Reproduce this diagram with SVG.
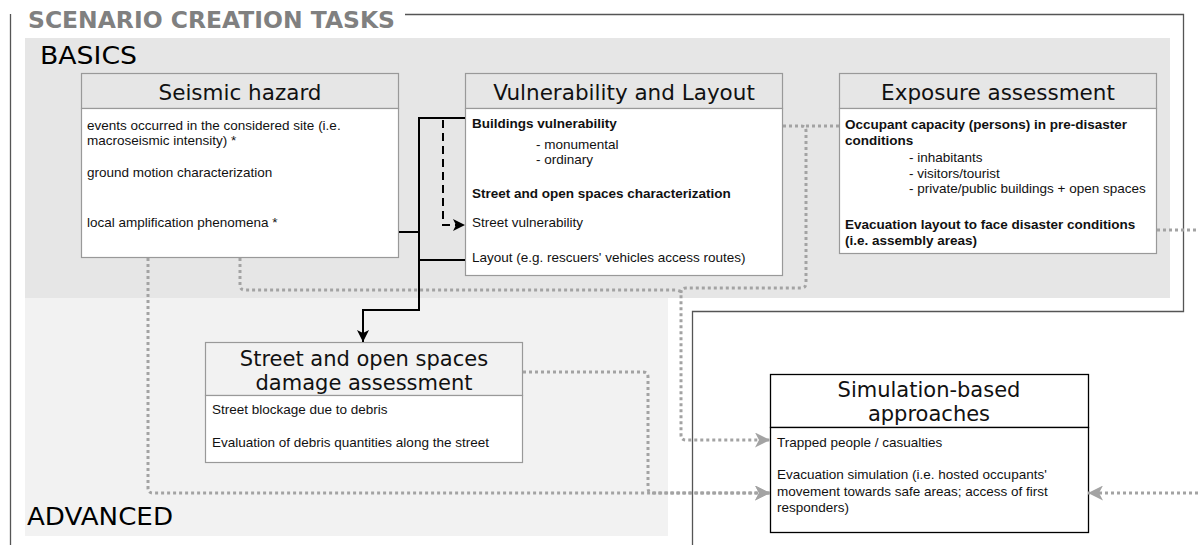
<svg xmlns="http://www.w3.org/2000/svg" width="1198" height="545" viewBox="0 0 1198 545">
<style>
.ttl{font-family:"DejaVu Sans",Verdana,sans-serif;font-size:21.5px;fill:#111;text-anchor:middle}
.ttl2{font-family:"DejaVu Sans",Verdana,sans-serif;font-size:21px;fill:#111;text-anchor:middle}
.big{font-family:"DejaVu Sans",Verdana,sans-serif;font-size:24px;fill:#000}
.t{font-family:"Liberation Sans",Arial,sans-serif;font-size:13.5px;fill:#111}
.b{font-weight:bold}
.gbox{fill:none;stroke:#999;stroke-width:1.2}
.wbody{fill:#fff;stroke:#999;stroke-width:1.2}
.dot{fill:none;stroke:#a3a3a3;stroke-width:3;stroke-dasharray:3 3}
.blk{fill:none;stroke:#000;stroke-width:2}
</style>
<defs>
<marker id="ga" viewBox="0 0 15 15" refX="15" refY="7.5" markerWidth="15" markerHeight="15" markerUnits="userSpaceOnUse" orient="auto"><path d="M0,0 L15,7.5 L0,15 L4,7.5 Z" fill="#a3a3a3"/></marker>
<marker id="ba" viewBox="0 0 12 12" refX="12" refY="6" markerWidth="12" markerHeight="12" markerUnits="userSpaceOnUse" orient="auto"><path d="M0,0 L12,6 L0,12 L3,6 Z" fill="#000"/></marker>
</defs>
<rect width="1198" height="545" fill="#fff"/>
<g id="frame">
<path d="M10.5,545 V14" fill="none" stroke="#555" stroke-width="1.3"/>
<path d="M405,14.5 H1183.5 V311.5 H692.5 V545" fill="none" stroke="#555" stroke-width="1.3"/>
<text x="28" y="28" font-family="DejaVu Sans,Verdana,sans-serif" font-weight="bold" font-size="23" fill="#808080" textLength="367" lengthAdjust="spacingAndGlyphs">SCENARIO CREATION TASKS</text>
</g>
<g id="basics">
<rect x="25" y="38" width="1145" height="260" fill="#e6e6e6"/>
<text class="big" x="40" y="64" textLength="97" lengthAdjust="spacingAndGlyphs">BASICS</text>
</g>
<g id="advanced">
<rect x="25" y="298" width="643" height="238" fill="#f2f2f2"/>
<text class="big" x="27" y="525" textLength="146" lengthAdjust="spacingAndGlyphs">ADVANCED</text>
</g>
<g id="seismic">
<rect class="gbox" x="81.5" y="73.5" width="317" height="35"/>
<rect class="wbody" x="81.5" y="108.5" width="317" height="149"/>
<text class="ttl" x="240" y="100">Seismic hazard</text>
<text class="t" x="87" y="130">events occurred in the considered site (i.e.</text>
<text class="t" x="87" y="145">macroseismic intensity) *</text>
<text class="t" x="87" y="177">ground motion characterization</text>
<text class="t" x="87" y="227">local amplification phenomena *</text>
</g>
<g id="vulnerability">
<rect class="gbox" x="465.5" y="73.5" width="317" height="35"/>
<rect class="wbody" x="465.5" y="108.5" width="317" height="167"/>
<text class="ttl" x="624" y="100">Vulnerability and Layout</text>
<text class="t b" x="472" y="128">Buildings vulnerability</text>
<text class="t" x="536" y="149">- monumental</text>
<text class="t" x="536" y="164">- ordinary</text>
<text class="t b" x="472" y="198">Street and open spaces characterization</text>
<text class="t" x="472" y="227">Street vulnerability</text>
<text class="t" x="472" y="262">Layout (e.g. rescuers' vehicles access routes)</text>
</g>
<g id="exposure">
<rect class="gbox" x="839.5" y="73.5" width="317" height="35"/>
<rect class="wbody" x="839.5" y="108.5" width="317" height="145"/>
<text class="ttl" x="998" y="100">Exposure assessment</text>
<text class="t b" x="845" y="129">Occupant capacity (persons) in pre-disaster</text>
<text class="t b" x="845" y="145">conditions</text>
<text class="t" x="909" y="162">- inhabitants</text>
<text class="t" x="909" y="178">- visitors/tourist</text>
<text class="t" x="909" y="193">- private/public buildings + open spaces</text>
<text class="t b" x="845" y="229">Evacuation layout to face disaster conditions</text>
<text class="t b" x="845" y="245">(i.e. assembly areas)</text>
</g>
<g id="damage">
<rect class="gbox" x="205.5" y="342.5" width="317" height="53"/>
<rect class="wbody" x="205.5" y="395.5" width="317" height="67"/>
<text class="ttl2" x="364" y="366">Street and open spaces</text>
<text class="ttl2" x="364" y="390">damage assessment</text>
<text class="t" x="212" y="414">Street blockage due to debris</text>
<text class="t" x="212" y="447">Evaluation of debris quantities along the street</text>
</g>
<g id="simulation">
<rect x="770.5" y="374.5" width="318" height="53" fill="#fff" stroke="#000" stroke-width="1.3"/>
<rect x="770.5" y="427.5" width="318" height="105" fill="#fff" stroke="#000" stroke-width="1.3"/>
<text class="ttl2" x="929" y="397">Simulation-based</text>
<text class="ttl2" x="929" y="421">approaches</text>
<text class="t" x="777" y="447">Trapped people / casualties</text>
<text class="t" x="777" y="479">Evacuation simulation (i.e. hosted occupants'</text>
<text class="t" x="777" y="496">movement towards safe areas; access of first</text>
<text class="t" x="777" y="512">responders)</text>
</g>
<g id="connectors">
<path class="dot" d="M148,258 V488 Q148,493 153,493 H770" marker-end="url(#ga)"/>
<path class="dot" d="M240,258 V285 Q240,290 245,290 H676 Q681,290 681,295 V435 Q681,440 686,440 H770" marker-end="url(#ga)"/>
<path class="dot" d="M783,126 H801 Q806,126 806,131 V283 Q806,288 801,288 H686 Q681,288 681,293"/>
<path class="dot" d="M839,126 H806"/>
<path class="dot" d="M523,372 H643 Q648,372 648,377 V488 Q648,493 653,493 H770" marker-end="url(#ga)"/>
<path class="dot" d="M1157,230 H1198"/>
<path class="dot" d="M1198,493 H1088" marker-end="url(#ga)"/>
<path class="blk" d="M399,232 H419"/>
<path class="blk" d="M465,118 H419 V310 H363 V342" marker-end="url(#ba)"/>
<path class="blk" d="M419,260 H465"/>
<path class="blk" d="M443,120 V225 H465" stroke-dasharray="8 5" marker-end="url(#ba)"/>
</g>
</svg>
